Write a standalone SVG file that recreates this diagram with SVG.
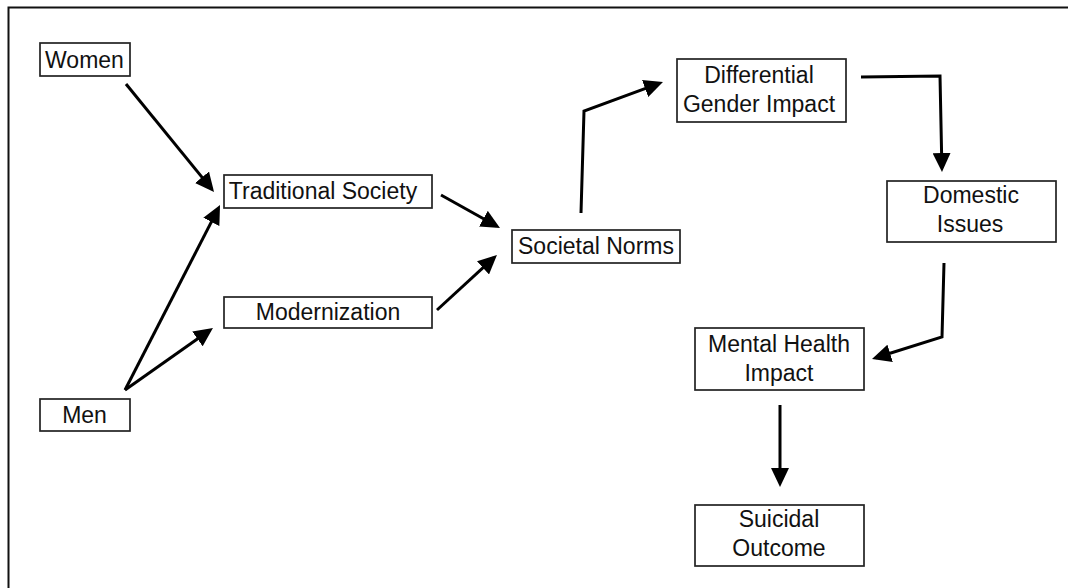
<svg xmlns="http://www.w3.org/2000/svg" width="1068" height="588" viewBox="0 0 1068 588">
  <style>
    .box { fill: #ffffff; stroke: #222222; stroke-width: 1.7; }
    .lbl { font-family: "Liberation Sans", Arial, Helvetica, sans-serif; font-size: 23px; fill: #111111; text-anchor: middle; }
    .conn { fill: none; stroke: #000000; stroke-width: 3; stroke-linejoin: miter; }
    .frame { fill: none; stroke: #111111; stroke-width: 2; }
  </style>
  <defs>
    <marker id="arrow" markerUnits="userSpaceOnUse" viewBox="0 0 19 18" markerWidth="19" markerHeight="18" refX="15" refY="9" orient="auto">
      <path d="M0,0 L19,9 L0,18 Z" fill="#000000"/>
    </marker>
  </defs>
  <rect width="1068" height="588" fill="#ffffff"/>
  <rect class="frame" x="8.5" y="7.5" width="1100" height="620"/>

  <g id="connectors">
    <path class="conn" marker-end="url(#arrow)" d="M126,84 L211.5,188.9"/>
    <path class="conn" marker-end="url(#arrow)" d="M125,390 L218.2,208.6"/>
    <path class="conn" marker-end="url(#arrow)" d="M125,390 L209.7,330.3"/>
    <path class="conn" marker-end="url(#arrow)" d="M441,195 L496.5,226"/>
    <path class="conn" marker-end="url(#arrow)" d="M437,310 L494,257.7"/>
    <path class="conn" marker-end="url(#arrow)" d="M581,213 L584,111 L659.2,83.4"/>
    <path class="conn" marker-end="url(#arrow)" d="M861,77 L940,76 L941.9,168"/>
    <path class="conn" marker-end="url(#arrow)" d="M944,263 L942,337 L875.8,357.8"/>
    <path class="conn" marker-end="url(#arrow)" d="M780,405 L780,483"/>
  </g>

  <g id="women">
    <rect class="box" x="40" y="43" width="90" height="33"/>
    <text class="lbl" x="84.5" y="67.5">Women</text>
  </g>
  <g id="men">
    <rect class="box" x="40" y="399" width="90" height="32"/>
    <text class="lbl" x="84.5" y="423">Men</text>
  </g>
  <g id="traditional-society">
    <rect class="box" x="224" y="175" width="208" height="33"/>
    <text class="lbl" x="323" y="199">Traditional Society</text>
  </g>
  <g id="modernization">
    <rect class="box" x="224" y="297" width="208" height="31"/>
    <text class="lbl" x="328" y="320">Modernization</text>
  </g>
  <g id="societal-norms">
    <rect class="box" x="512" y="230" width="168" height="33"/>
    <text class="lbl" x="596" y="254">Societal Norms</text>
  </g>
  <g id="differential-gender-impact">
    <rect class="box" x="677" y="59" width="169" height="63"/>
    <text class="lbl" x="759" y="83">Differential</text>
    <text class="lbl" x="759" y="112">Gender Impact</text>
  </g>
  <g id="domestic-issues">
    <rect class="box" x="887" y="181" width="169" height="61"/>
    <text class="lbl" x="971" y="203">Domestic</text>
    <text class="lbl" x="970" y="232">Issues</text>
  </g>
  <g id="mental-health-impact">
    <rect class="box" x="695" y="328" width="169" height="62"/>
    <text class="lbl" x="779" y="352">Mental Health</text>
    <text class="lbl" x="779" y="381">Impact</text>
  </g>
  <g id="suicidal-outcome">
    <rect class="box" x="695" y="505" width="169" height="61"/>
    <text class="lbl" x="779" y="527">Suicidal</text>
    <text class="lbl" x="779" y="556">Outcome</text>
  </g>
</svg>
